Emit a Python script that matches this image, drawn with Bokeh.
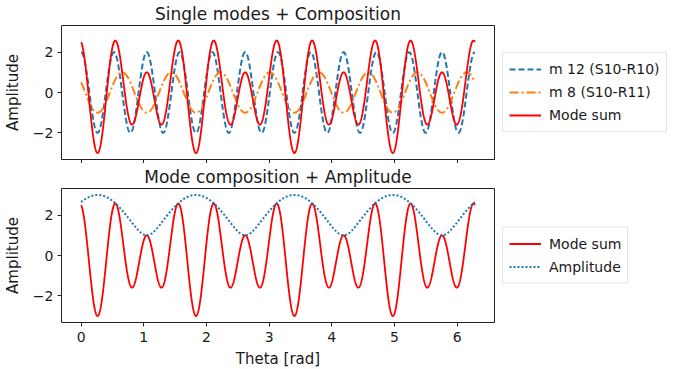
import numpy as np
from bokeh.plotting import figure
from bokeh.models import Legend, LegendItem, FixedTicker, Range1d
from bokeh.layouts import column
from bokeh.embed import file_html
from bokeh.resources import INLINE

# ---- data ----
mode_numbers = [12, 8]
mode_amplitudes = [2.0, 1.0]
mode_phases_deg = [0.0, 60.0]
mode_labels = ["m 12 (S10-R10)", "m 8 (S10-R11)"]
sum_label = "Mode sum"
amp_label = "Amplitude"
titles = ["Single modes + Composition", "Mode composition + Amplitude"]
x_ticks = [0, 1, 2, 3, 4, 5, 6]
y_ticks = [-2, 0, 2]
y_tick_labels = ["\u22122", "0", "2"]

theta = np.linspace(0.0, 2.0 * np.pi, 1500)
modes = [a * np.cos(m * theta + np.deg2rad(ph))
         for m, a, ph in zip(mode_numbers, mode_amplitudes, mode_phases_deg)]
mode_sum = modes[0] + modes[1]
amplitude = np.abs(sum(a * np.exp(1j * (m * theta + np.deg2rad(ph)))
                       for m, a, ph in zip(mode_numbers, mode_amplitudes, mode_phases_deg)))

FONT = "DejaVu Sans"
TXT = "#1a1a1a"
BLUE = "#1f77b4"
ORANGE = "#ff7f0e"
RED = "#ff0000"


def make_fig(title, show_xlabels):
    p = figure(frame_width=433, frame_height=134, output_backend="svg",
               toolbar_location=None, x_range=Range1d(-0.314, 6.597),
               y_range=Range1d(-3.32, 3.32), min_border_left=52,
               min_border_right=4, min_border_top=0,
               min_border_bottom=0, title=title)
    p.title.text_font = FONT
    p.title.text_font_size = "17px"
    p.title.text_font_style = "normal"
    p.title.text_color = TXT
    p.title.align = "center"
    p.title.standoff = 3
    p.grid.visible = False
    p.outline_line_color = "#222222"
    p.outline_line_width = 1
    p.outline_line_alpha = 1
    for ax in (p.xaxis[0], p.yaxis[0]):
        ax.axis_line_color = None
        ax.major_tick_out = 4
        ax.major_tick_in = 0
        ax.major_tick_line_color = "#222222"
        ax.minor_tick_line_color = None
        ax.major_label_text_font = FONT
        ax.major_label_text_font_size = "14px"
        ax.major_label_text_color = TXT
        ax.axis_label_text_font = FONT
        ax.axis_label_text_font_size = "15px"
        ax.axis_label_text_font_style = "normal"
        ax.axis_label_text_color = TXT
    p.xaxis.ticker = FixedTicker(ticks=x_ticks)
    p.yaxis.ticker = FixedTicker(ticks=y_ticks)
    p.yaxis.major_label_overrides = {t: s for t, s in zip(y_ticks, y_tick_labels)}
    p.yaxis.axis_label = "Amplitude"
    p.yaxis.major_label_standoff = 4
    p.yaxis.axis_label_standoff = 8
    if show_xlabels:
        p.xaxis.axis_label = "Theta [rad]"
        p.xaxis.major_label_standoff = 5
        p.xaxis.axis_label_standoff = 5
    else:
        p.xaxis.major_label_overrides = {t: "" for t in x_ticks}
        p.xaxis.major_label_standoff = 0
        p.xaxis.major_label_text_font_size = "4px"
    return p


def style_legend(lg):
    lg.location = "center_left"
    lg.margin = 8
    lg.padding = 6
    lg.spacing = 3
    lg.glyph_height = 20
    lg.glyph_width = 32
    lg.label_height = 20
    lg.label_standoff = 8
    lg.label_text_font = FONT
    lg.label_text_font_size = "14px"
    lg.label_text_color = TXT
    lg.border_line_color = "#cccccc"
    lg.border_line_width = 1
    lg.background_fill_alpha = 0.8


p1 = make_fig(titles[0], False)
r1 = p1.line(theta, modes[0], line_color=BLUE, line_width=2, line_dash="6 3")
r2 = p1.line(theta, modes[1], line_color=ORANGE, line_width=2, line_dash="9 3 2 3")
r3 = p1.line(theta, mode_sum, line_color=RED, line_width=1.8)
lg1 = Legend(items=[LegendItem(label=mode_labels[0], renderers=[r1]),
                    LegendItem(label=mode_labels[1], renderers=[r2]),
                    LegendItem(label=sum_label, renderers=[r3])])
style_legend(lg1)
p1.add_layout(lg1, "right")

p2 = make_fig(titles[1], True)
s1 = p2.line(theta, mode_sum, line_color=RED, line_width=1.8)
s2 = p2.line(theta, amplitude, line_color=BLUE, line_width=2, line_dash="2 2")
lg2 = Legend(items=[LegendItem(label=sum_label, renderers=[s1]),
                    LegendItem(label=amp_label, renderers=[s2])])
style_legend(lg2)
p2.add_layout(lg2, "right")

layout = column(p1, p2, spacing=0)
open("out.html", "w").write(file_html(layout, INLINE))
